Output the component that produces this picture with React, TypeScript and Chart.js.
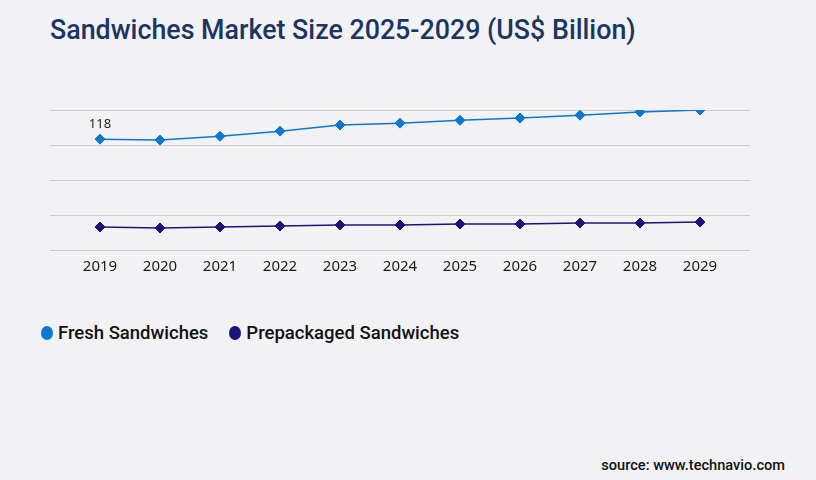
import React, { useEffect, useRef } from 'react';
import { Chart, registerables } from 'chart.js';

Chart.register(...registerables);

const years = [2019, 2020, 2021, 2022, 2023, 2024, 2025, 2026, 2027, 2028, 2029];
const freshValues = [118, 117, 121, 126.5, 133, 135, 138, 140.5, 143.5, 147, 149];
const prepackagedValues = [24.5, 23.4, 24.5, 25.5, 26.6, 26.6, 27.7, 27.7, 28.7, 28.7, 29.8];
const seriesNames = ['Fresh Sandwiches', 'Prepackaged Sandwiches'];
const seriesColors = ['#0A78D2', '#1A1478'];
const labelledIndex = 0; // only the first fresh point carries a value label

const valueLabel = {
  id: 'valueLabel',
  afterDatasetsDraw(chart: Chart) {
    const meta = chart.getDatasetMeta(0);
    const pt = meta.data[labelledIndex];
    if (!pt) return;
    const ctx = chart.ctx;
    ctx.save();
    ctx.font = '13px "Noto Sans"';
    ctx.fillStyle = '#222222';
    ctx.textAlign = 'center';
    ctx.textBaseline = 'middle';
    ctx.fillText(String(freshValues[labelledIndex]), pt.x, pt.y - 15);
    ctx.restore();
  },
};

const SalesChart: React.FC = () => {
  const canvasRef = useRef<HTMLCanvasElement>(null);
  const chartRef = useRef<Chart | null>(null);

  useEffect(() => {
    document.body.style.margin = '0';
    if (!canvasRef.current) return;
    const ctx = canvasRef.current.getContext('2d');
    if (!ctx) return;
    if (chartRef.current) chartRef.current.destroy();

    chartRef.current = new Chart(ctx, {
      type: 'line',
      data: {
        datasets: [freshValues, prepackagedValues].map((vals, i) => ({
          label: seriesNames[i],
          data: years.map((yr, j) => ({ x: yr, y: vals[j] })),
          borderColor: seriesColors[i],
          backgroundColor: seriesColors[i],
          borderWidth: 1.5,
          pointStyle: 'rectRot',
          pointRadius: 5,
          pointBorderWidth: 1,
          tension: 0,
        })),
      },
      options: {
        animation: false,
        responsive: true,
        maintainAspectRatio: false,
        layout: { padding: { left: 50, right: 66, top: 110, bottom: 16 } },
        plugins: {
          legend: { display: false },
          tooltip: { enabled: false },
        },
        scales: {
          x: {
            type: 'linear',
            min: 2018 + 1 / 6,
            max: 2030 - 1 / 6,
            grid: { display: false },
            border: { display: false },
            ticks: {
              stepSize: 1,
              includeBounds: false,
              padding: 0,
              color: '#1a1a1a',
              font: { family: '"Noto Sans"', size: 15 },
              callback: (v) => String(v),
            },
          },
          y: {
            min: 0,
            max: 149,
            grid: { color: '#cccccc', lineWidth: 1, drawTicks: false },
            border: { display: false },
            ticks: { display: false, count: 5 },
          },
        },
      },
      plugins: [valueLabel],
    });

    return () => chartRef.current?.destroy();
  }, []);

  return (
    <div style={{ position: 'absolute', left: 0, top: 0, width: 816, height: 292 }}>
      <canvas ref={canvasRef}></canvas>
    </div>
  );
};

export default function App() {
  return (
    <div
      style={{
        position: 'relative',
        width: 816,
        height: 480,
        background: '#F2F2F4',
        fontFamily: 'Roboto, sans-serif',
        overflow: 'hidden',
      }}
    >
      <div
        style={{
          position: 'absolute',
          left: 50,
          top: 14,
          fontSize: 26.8,
          fontWeight: 500,
          color: '#1B3564',
          whiteSpace: 'nowrap',
        }}
      >
        Sandwiches Market Size 2025-2029 (US$ Billion)
      </div>
      <SalesChart />
      <div
        style={{
          position: 'absolute',
          left: 41,
          top: 322,
          display: 'flex',
          alignItems: 'center',
          fontSize: 18.5,
          fontWeight: 500,
          color: '#111111',
          whiteSpace: 'nowrap',
        }}
      >
        {seriesNames.map((name, i) => (
          <div key={name} style={{ display: 'flex', alignItems: 'center', marginRight: 21 }}>
            <span
              style={{
                display: 'inline-block',
                width: 12,
                height: 14,
                borderRadius: '50%',
                background: seriesColors[i],
                marginRight: 5,
              }}
            />
            <span>{name}</span>
          </div>
        ))}
      </div>
      <div
        style={{
          position: 'absolute',
          right: 31,
          top: 456,
          fontSize: 14.6,
          fontWeight: 500,
          color: '#111111',
          whiteSpace: 'nowrap',
        }}
      >
        source: www.technavio.com
      </div>
    </div>
  );
}
